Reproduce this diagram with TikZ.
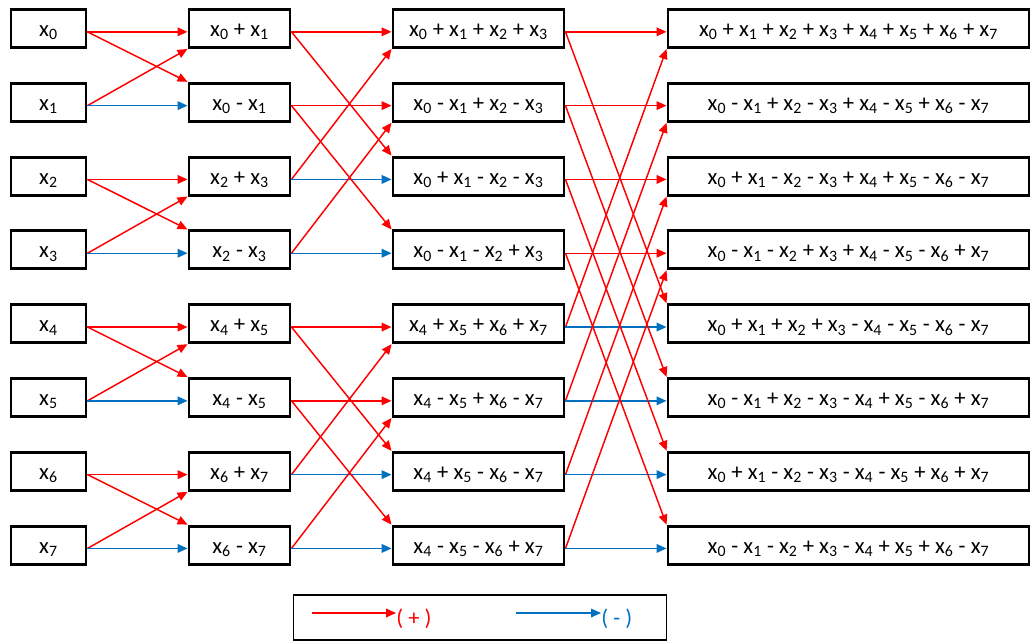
\documentclass[tikz,border=0pt]{standalone}
\usepackage{fontspec}
\setmainfont{Carlito}
\usetikzlibrary{arrows.meta}
\definecolor{pr}{RGB}{255,0,0}
\definecolor{mb}{RGB}{0,112,192}
\newcommand\xs[1]{x\textsubscript{#1}}
\begin{document}
\begin{tikzpicture}[x=0.75pt,y=-0.75pt,
  box/.style={draw=black,line width=2.2pt,minimum height=28.5pt,inner sep=0pt,text height=12pt,text depth=0pt,font=\fontsize{17}{19}\selectfont},
  bA/.style={box,minimum width=56.25pt},
  bB/.style={box,minimum width=75.75pt},
  bC/.style={box,minimum width=128.25pt},
  bD/.style={box,minimum width=270.75pt},
  conn/.style={line width=1.1pt,-{Triangle[length=7.5pt,width=6.5pt]}},
  plus/.style={conn,draw=pr,fill=pr},
  minus/.style={conn,draw=mb,fill=mb},
  ltxt/.style={anchor=base west,inner sep=0pt,font=\fontsize{17}{19}\selectfont}]
\useasboundingbox (0,0) rectangle (1031,642);
% column 1
\foreach \i in {0,...,7}{
  \node[bA] (c1r\i) at (48.5,28.5+73.8*\i) {\xs{\i}};
}
% column 2
\node[bB] (c2r0) at (239.5,28.5+73.8*0) {\xs0 + \xs1};
\node[bB] (c2r1) at (239.5,28.5+73.8*1) {\xs0 - \xs1};
\node[bB] (c2r2) at (239.5,28.5+73.8*2) {\xs2 + \xs3};
\node[bB] (c2r3) at (239.5,28.5+73.8*3) {\xs2 - \xs3};
\node[bB] (c2r4) at (239.5,28.5+73.8*4) {\xs4 + \xs5};
\node[bB] (c2r5) at (239.5,28.5+73.8*5) {\xs4 - \xs5};
\node[bB] (c2r6) at (239.5,28.5+73.8*6) {\xs6 + \xs7};
\node[bB] (c2r7) at (239.5,28.5+73.8*7) {\xs6 - \xs7};
% column 3
\node[bC] (c3r0) at (478.5,28.5+73.8*0) {\xs0 + \xs1 + \xs2 + \xs3};
\node[bC] (c3r1) at (478.5,28.5+73.8*1) {\xs0 - \xs1 + \xs2 - \xs3};
\node[bC] (c3r2) at (478.5,28.5+73.8*2) {\xs0 + \xs1 - \xs2 - \xs3};
\node[bC] (c3r3) at (478.5,28.5+73.8*3) {\xs0 - \xs1 - \xs2 + \xs3};
\node[bC] (c3r4) at (478.5,28.5+73.8*4) {\xs4 + \xs5 + \xs6 + \xs7};
\node[bC] (c3r5) at (478.5,28.5+73.8*5) {\xs4 - \xs5 + \xs6 - \xs7};
\node[bC] (c3r6) at (478.5,28.5+73.8*6) {\xs4 + \xs5 - \xs6 - \xs7};
\node[bC] (c3r7) at (478.5,28.5+73.8*7) {\xs4 - \xs5 - \xs6 + \xs7};
% column 4
\node[bD] (c4r0) at (848.5,28.5+73.8*0) {\xs0 + \xs1 + \xs2 + \xs3 + \xs4 + \xs5 + \xs6 + \xs7};
\node[bD] (c4r1) at (848.5,28.5+73.8*1) {\xs0 - \xs1 + \xs2 - \xs3 + \xs4 - \xs5 + \xs6 - \xs7};
\node[bD] (c4r2) at (848.5,28.5+73.8*2) {\xs0 + \xs1 - \xs2 - \xs3 + \xs4 + \xs5 - \xs6 - \xs7};
\node[bD] (c4r3) at (848.5,28.5+73.8*3) {\xs0 - \xs1 - \xs2 + \xs3 + \xs4 - \xs5 - \xs6 + \xs7};
\node[bD] (c4r4) at (848.5,28.5+73.8*4) {\xs0 + \xs1 + \xs2 + \xs3 - \xs4 - \xs5 - \xs6 - \xs7};
\node[bD] (c4r5) at (848.5,28.5+73.8*5) {\xs0 - \xs1 + \xs2 - \xs3 - \xs4 + \xs5 - \xs6 + \xs7};
\node[bD] (c4r6) at (848.5,28.5+73.8*6) {\xs0 + \xs1 - \xs2 - \xs3 - \xs4 - \xs5 + \xs6 + \xs7};
\node[bD] (c4r7) at (848.5,28.5+73.8*7) {\xs0 - \xs1 - \xs2 + \xs3 - \xs4 + \xs5 + \xs6 - \xs7};
% butterflies
\foreach \s/\t/\pairs in {c1/c2/{0/1,2/3,4/5,6/7}, c2/c3/{0/2,1/3,4/6,5/7}, c3/c4/{0/4,1/5,2/6,3/7}}{
  \foreach \a/\b in \pairs {
    \draw[plus] ([yshift=-2.5pt]\s r\a.east) -- ([yshift=-2.5pt]\t r\a.west);
    \draw[plus] ([yshift=-2.5pt]\s r\a.east) -- (\t r\b.north west);
    \draw[plus] ([yshift=-2.5pt]\s r\b.east) -- (\t r\a.south west);
    \draw[minus] ([yshift=-2.5pt]\s r\b.east) -- ([yshift=-2.5pt]\t r\b.west);
  }
}
% legend
\node[draw=black,line width=1.2pt,minimum width=280pt,minimum height=34pt,inner sep=0pt] (legend) at (480,617.5) {};
\coordinate (p1) at (312,613);
\node[ltxt,text=pr] (ptxt) at (396,625) {( + )};
\coordinate (m1) at (516,613);
\node[ltxt,text=mb] (mtxt) at (601,625) {( - )};
\draw[plus] (p1) -- (p1 -| ptxt.west);
\draw[minus] (m1) -- (m1 -| mtxt.west);
\end{tikzpicture}
\end{document}
